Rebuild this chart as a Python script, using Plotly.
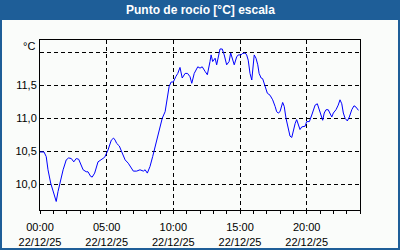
import plotly.graph_objects as go

times = ["00:00","00:18","00:28","00:36","00:48","00:59","01:13","01:21","01:29","01:44",
 "01:58","02:09","02:21","02:32","02:43","02:54","03:14","03:28","03:36","03:48",
 "03:55","04:06","04:21","04:39","04:51","05:06","05:21","05:31","05:38","05:45",
 "05:57","06:08","06:23","06:37","06:48","07:00","07:15","07:30","07:45","07:53",
 "08:03","08:15","08:27","08:38","08:50","09:00","09:10","09:23","09:30","09:41",
 "09:50","10:00","10:11","10:20","10:30","10:40","10:53","11:04","11:15","11:23",
 "11:34","11:50","12:00","12:10","12:23","12:33","12:45","12:50","12:57","13:08",
 "13:15","13:22","13:30","13:40","13:49","14:00","14:11","14:18","14:25","14:34",
 "14:45","14:52","15:05","15:10","15:23","15:30","15:37","15:45","15:53","16:00",
 "16:04","16:12","16:20","16:26","16:35","16:42","16:49","16:53","17:03","17:15",
 "17:27","17:38","17:45","17:52","18:00","18:12","18:19","18:27","18:37","18:45",
 "18:53","19:00","19:08","19:15","19:22","19:30","19:38","19:53","20:00","20:12",
 "20:23","20:30","20:38","20:48","20:57","21:05","21:12","21:19","21:27","21:37",
 "21:45","21:53","22:00","22:12","22:22","22:30","22:38","22:45","22:53","23:03",
 "23:12","23:23","23:33","23:42","23:53"]
dew_point = [10.49,10.49,10.42,10.22,10.02,9.89,9.74,9.89,10.02,10.22,
 10.37,10.40,10.39,10.34,10.39,10.38,10.22,10.19,10.19,10.12,
 10.11,10.17,10.34,10.39,10.41,10.52,10.67,10.70,10.67,10.62,
 10.58,10.49,10.37,10.32,10.27,10.20,10.20,10.22,10.20,10.22,
 10.17,10.27,10.42,10.57,10.70,10.85,11.00,11.10,11.28,11.48,
 11.55,11.55,11.63,11.68,11.77,11.61,11.68,11.68,11.63,11.53,
 11.68,11.78,11.76,11.78,11.71,11.66,11.86,11.96,11.86,11.91,
 11.81,11.93,12.05,12.05,11.96,11.81,11.86,11.99,11.91,11.81,
 11.93,11.96,11.96,11.98,11.99,11.96,11.88,11.68,11.58,11.78,
 11.96,11.91,11.81,11.68,11.61,11.60,11.53,11.48,11.38,11.35,
 11.28,11.18,11.10,11.08,11.10,11.24,11.18,11.00,10.85,10.73,
 10.71,10.82,10.92,10.98,10.92,10.83,10.87,10.88,10.95,10.95,
 11.05,11.13,11.20,11.22,11.13,11.02,10.97,11.08,11.13,11.13,
 11.08,11.02,11.08,11.13,11.20,11.28,11.22,11.08,11.00,10.96,
 11.02,11.13,11.19,11.17,11.12]

date = "2025-12-22"
x_vals = [f"{date} {t}" for t in times]

y_tickvals = [10.0, 10.5, 11.0, 11.5, 12.0]
y_ticktext = ["10,0", "10,5", "11,0", "11,5", ""]
x_tickvals = [f"{date} {h}" for h in ["00:00", "05:00", "10:00", "15:00", "20:00"]]
x_ticktext = [f"{h}<br>22/12/25" for h in ["00:00", "05:00", "10:00", "15:00", "20:00"]]
title = "Punto de rocío [°C] escala"
unit = "°C"

W, H = 400, 250
L, R, T, B = 40, 40, 40, 40
pw, ph = W - L - R, H - T - B
blue = "#1e5e98"
bg = "#fafcfa"
font = "Liberation Sans"

fig = go.Figure(go.Scatter(x=x_vals, y=dew_point, mode="lines",
                           line=dict(color="#0000ff", width=1)))

def px_x(p):
    return (p - L) / pw

def px_y(p):  # p measured from top
    return 1 - (p - T) / ph

fig.update_layout(
    width=W, height=H,
    margin=dict(l=L, r=R, t=T, b=B, autoexpand=False),
    paper_bgcolor=bg, plot_bgcolor=bg,
    showlegend=False,
    font=dict(family=font, size=11, color="#000000"),
    xaxis=dict(
        range=[f"{date} 00:00", "2025-12-23 00:00"],
        tickvals=x_tickvals, ticktext=x_ticktext,
        ticks="outside", ticklen=3, tickcolor="#000",
        showgrid=True, gridcolor="#000", griddash="4px,3px", gridwidth=1,
        showline=True, linecolor="#000", linewidth=1, mirror=True,
        minor=dict(dtick=3600000, ticks="outside", ticklen=3, tickcolor="#000", showgrid=False),
        zeroline=False, tickfont=dict(family=font, size=11),
        automargin=False, ticklabelstandoff=4,
    ),
    yaxis=dict(
        range=[9.611, 12.186],
        tickvals=y_tickvals, ticktext=y_ticktext,
        ticks="", showgrid=True, gridcolor="#000", griddash="4px,3px", gridwidth=1,
        showline=True, linecolor="#000", linewidth=1, mirror=True,
        zeroline=False, tickfont=dict(family=font, size=11),
        automargin=False,
    ),
    shapes=[
        dict(type="rect", xref="paper", yref="paper",
             x0=px_x(0), x1=px_x(W), y0=px_y(0), y1=px_y(20),
             fillcolor=blue, line=dict(width=0), layer="above"),
        dict(type="rect", xref="paper", yref="paper",
             x0=px_x(0), x1=px_x(W), y0=px_y(0), y1=px_y(H),
             fillcolor="rgba(0,0,0,0)", line=dict(color=blue, width=4), layer="above"),
    ],
    annotations=[
        dict(text=f"<b>{title}</b>", xref="paper", yref="paper",
             x=px_x(W / 2), y=px_y(10), xanchor="center", yanchor="middle",
             showarrow=False, font=dict(family=font, size=12, color="white")),
        dict(text=unit, xref="paper", yref="paper",
             x=px_x(37), y=px_y(46), xanchor="right", yanchor="middle",
             showarrow=False, font=dict(family=font, size=11, color="#000")),
    ],
)

fig.write_html("out.html")
